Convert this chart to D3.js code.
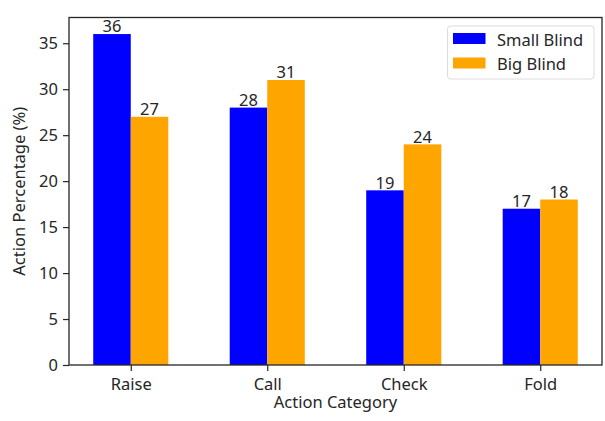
<!DOCTYPE html>
<html><head><meta charset="utf-8">
<script src="https://cdn.jsdelivr.net/npm/d3@7"></script>
<style>body{margin:0;background:#fff}svg{display:block}text{font-family:"Noto Sans",sans-serif;fill:#262626}</style>
</head><body>
<script>
const categories = ["Raise", "Call", "Check", "Fold"];
const smallBlind = [36, 28, 19, 17];
const bigBlind = [27, 31, 24, 18];
const seriesNames = ["Small Blind", "Big Blind"];
const seriesColors = ["#0000ff", "#ffa500"];
const yTicks = [0, 5, 10, 15, 20, 25, 30, 35];

const W = 605, H = 421;
const L = 69, R = 602, T = 17.5, B = 365;
const bw = 0.275;
const span = categories.length - 1 + 2 * bw;
const m = 0.05 * span;
const svg = d3.select("body").append("svg").attr("width", W).attr("height", H);
const x = d3.scaleLinear().domain([-bw - m, categories.length - 1 + bw + m]).range([L, R]);
const y = d3.scaleLinear().domain([0, 36 * 1.05]).range([B, T]);
const fs = 16.5;
const ff = "Noto Sans";

const series = [smallBlind, bigBlind];
series.forEach((vals, si) => {
  const off = si === 0 ? -bw : 0;
  svg.append("g").selectAll("rect").data(vals).join("rect")
    .attr("x", (d, i) => x(i + off))
    .attr("width", x(bw) - x(0))
    .attr("y", d => y(d))
    .attr("height", d => y(0) - y(d))
    .attr("fill", seriesColors[si]);
  svg.append("g").selectAll("text").data(vals).join("text")
    .attr("x", (d, i) => x(i + off + bw / 2))
    .attr("y", d => y(d) - 1.8)
    .attr("text-anchor", "middle")
    .attr("font-size", fs)
    .text(d => d);
});

// axes
const yAxis = d3.axisLeft(y).tickValues(yTicks).tickSize(6).tickPadding(5);
const gy = svg.append("g").attr("transform", `translate(${L},0)`).call(yAxis);
const xAxis = d3.axisBottom(x).tickValues(categories.map((c, i) => i)).tickFormat(i => categories[i]).tickSize(6).tickPadding(7);
const gx = svg.append("g").attr("transform", `translate(0,${B})`).call(xAxis);
[gx, gy].forEach(g => {
  g.select(".domain").remove();
  g.selectAll("line").attr("stroke", "#262626").attr("stroke-width", 1.2);
  g.selectAll("text").attr("font-size", fs).attr("font-family", ff).attr("fill", "#262626");
});
svg.append("rect").attr("x", L).attr("y", T).attr("width", R - L).attr("height", B - T)
  .attr("fill", "none").attr("stroke", "#262626").attr("stroke-width", 1.3);

svg.append("text").attr("x", (L + R) / 2).attr("y", 407.5).attr("text-anchor", "middle")
  .attr("font-size", fs).text("Action Category");
svg.append("text").attr("transform", `translate(25,${(T + B) / 2}) rotate(-90)`).attr("text-anchor", "middle")
  .attr("font-size", fs).text("Action Percentage (%)");

// legend
const lg = svg.append("g");
lg.append("rect").attr("x", 447.5).attr("y", 26).attr("width", 146.5).attr("height", 53).attr("rx", 3)
  .attr("fill", "#fff").attr("fill-opacity", 0.8).attr("stroke", "#dcdcdc");
seriesNames.forEach((n, i) => {
  lg.append("rect").attr("x", 453).attr("y", 33 + i * 24.5).attr("width", 32.5).attr("height", 11).attr("fill", seriesColors[i]);
  lg.append("text").attr("x", 497).attr("y", 45.5 + i * 24.5).attr("font-size", fs).text(n);
});
</script>
</body></html>
